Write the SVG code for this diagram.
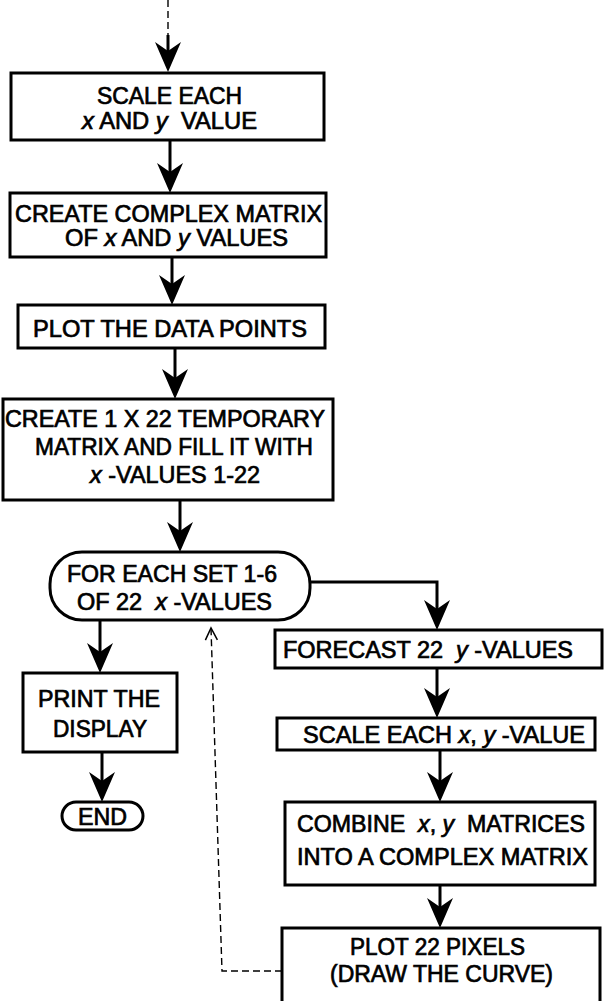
<svg xmlns="http://www.w3.org/2000/svg" width="604" height="1001" viewBox="0 0 604 1001">
<style>
.box{fill:#fff;stroke:#000;stroke-width:3}
.t{font-family:"Liberation Sans",Arial,sans-serif;font-size:23px;fill:#000;text-anchor:middle;white-space:pre;stroke:#000;stroke-width:0.7}
.i{font-style:italic}
.c{fill:none;stroke:#000;stroke-width:3}
.d{fill:none;stroke:#000;stroke-width:1.4;stroke-dasharray:7 4}
</style>
<defs>
<marker id="ah" markerUnits="userSpaceOnUse" markerWidth="34" markerHeight="30" viewBox="-22 -15 34 30" refX="0" refY="0" orient="auto">
<path d="M10,0 L-20,-13 L-11,0 L-20,13 Z" fill="#000"/>
</marker>
<marker id="oh" markerUnits="userSpaceOnUse" markerWidth="16" markerHeight="16" viewBox="-14 -8 16 16" refX="0" refY="0" orient="auto">
<path d="M-12,-6 L0,0 L-12,6" fill="none" stroke="#000" stroke-width="1.5"/>
</marker>
</defs>
<g id="connectors">
<path class="d" d="M168,0 V35"/>
<path class="c" d="M168,35 V62" marker-end="url(#ah)"/>
<path class="c" d="M170,140 V183" marker-end="url(#ah)"/>
<path class="c" d="M172,257 V295" marker-end="url(#ah)"/>
<path class="c" d="M175,348 V389" marker-end="url(#ah)"/>
<path class="c" d="M180,500 V542" marker-end="url(#ah)"/>
<path class="c" d="M100,620 V663" marker-end="url(#ah)"/>
<path class="c" d="M102,752 V792" marker-end="url(#ah)"/>
<path class="c" d="M310,582 H437 V620" marker-end="url(#ah)"/>
<path class="c" d="M437,668 V708" marker-end="url(#ah)"/>
<path class="c" d="M440,750 V792" marker-end="url(#ah)"/>
<path class="c" d="M440,885 V918" marker-end="url(#ah)"/>
<path class="d" d="M282,971 H222 L211,628" marker-end="url(#oh)"/>
</g>
<g id="n1">
<rect class="box" x="11" y="73" width="313" height="67"/>
<text class="t" x="169.5" y="104" textLength="145" lengthAdjust="spacingAndGlyphs">SCALE EACH</text>
<text class="t" x="169.5" y="129" textLength="175" lengthAdjust="spacingAndGlyphs"><tspan class="i">x</tspan> AND <tspan class="i">y</tspan>  VALUE</text>
</g>
<g id="n2">
<rect class="box" x="10" y="193" width="316" height="64"/>
<text class="t" x="168.5" y="222" textLength="307" lengthAdjust="spacingAndGlyphs">CREATE COMPLEX MATRIX</text>
<text class="t" x="176.5" y="246" textLength="223" lengthAdjust="spacingAndGlyphs">OF <tspan class="i">x</tspan> AND <tspan class="i">y</tspan> VALUES</text>
</g>
<g id="n3">
<rect class="box" x="18" y="305" width="307" height="43"/>
<text class="t" x="170" y="337" textLength="274" lengthAdjust="spacingAndGlyphs">PLOT THE DATA POINTS</text>
</g>
<g id="n4">
<rect class="box" x="3" y="399" width="330" height="101"/>
<text class="t" x="165" y="427" textLength="320" lengthAdjust="spacingAndGlyphs">CREATE 1 X 22 TEMPORARY</text>
<text class="t" x="174" y="455" textLength="278" lengthAdjust="spacingAndGlyphs">MATRIX AND FILL IT WITH</text>
<text class="t" x="175" y="483" textLength="170" lengthAdjust="spacingAndGlyphs"><tspan class="i">x</tspan> -VALUES 1-22</text>
</g>
<g id="n5">
<rect class="box" x="50" y="552" width="260" height="68" rx="32" ry="32"/>
<text class="t" x="172" y="582" textLength="210" lengthAdjust="spacingAndGlyphs">FOR EACH SET 1-6</text>
<text class="t" x="174.5" y="610" textLength="195" lengthAdjust="spacingAndGlyphs">OF 22  <tspan class="i">x</tspan> -VALUES</text>
</g>
<g id="n6">
<rect class="box" x="23" y="673" width="154" height="79"/>
<text class="t" x="99" y="707" textLength="122" lengthAdjust="spacingAndGlyphs">PRINT THE</text>
<text class="t" x="100" y="737" textLength="94" lengthAdjust="spacingAndGlyphs">DISPLAY</text>
</g>
<g id="n7">
<rect class="box" x="62" y="802" width="81" height="28" rx="14" ry="14"/>
<text class="t" x="102.5" y="825" textLength="49" lengthAdjust="spacingAndGlyphs">END</text>
</g>
<g id="n8">
<rect class="box" x="275" y="630" width="327" height="38"/>
<text class="t" x="428" y="658" textLength="290" lengthAdjust="spacingAndGlyphs">FORECAST 22  <tspan class="i">y</tspan> -VALUES</text>
</g>
<g id="n9">
<rect class="box" x="277" y="718" width="318" height="32"/>
<text class="t" x="444" y="743" textLength="282" lengthAdjust="spacingAndGlyphs">SCALE EACH <tspan class="i">x</tspan>, <tspan class="i">y</tspan> -VALUE</text>
</g>
<g id="n10">
<rect class="box" x="285" y="802" width="310" height="83"/>
<text class="t" x="441" y="832" textLength="288" lengthAdjust="spacingAndGlyphs">COMBINE  <tspan class="i">x</tspan>, <tspan class="i">y</tspan>  MATRICES</text>
<text class="t" x="442.5" y="865" textLength="291" lengthAdjust="spacingAndGlyphs">INTO A COMPLEX MATRIX</text>
</g>
<g id="n11">
<rect class="box" x="282" y="928" width="318" height="82"/>
<text class="t" x="437.5" y="955" textLength="175" lengthAdjust="spacingAndGlyphs">PLOT 22 PIXELS</text>
<text class="t" x="441.5" y="982" textLength="223" lengthAdjust="spacingAndGlyphs">(DRAW THE CURVE)</text>
</g>
</svg>
